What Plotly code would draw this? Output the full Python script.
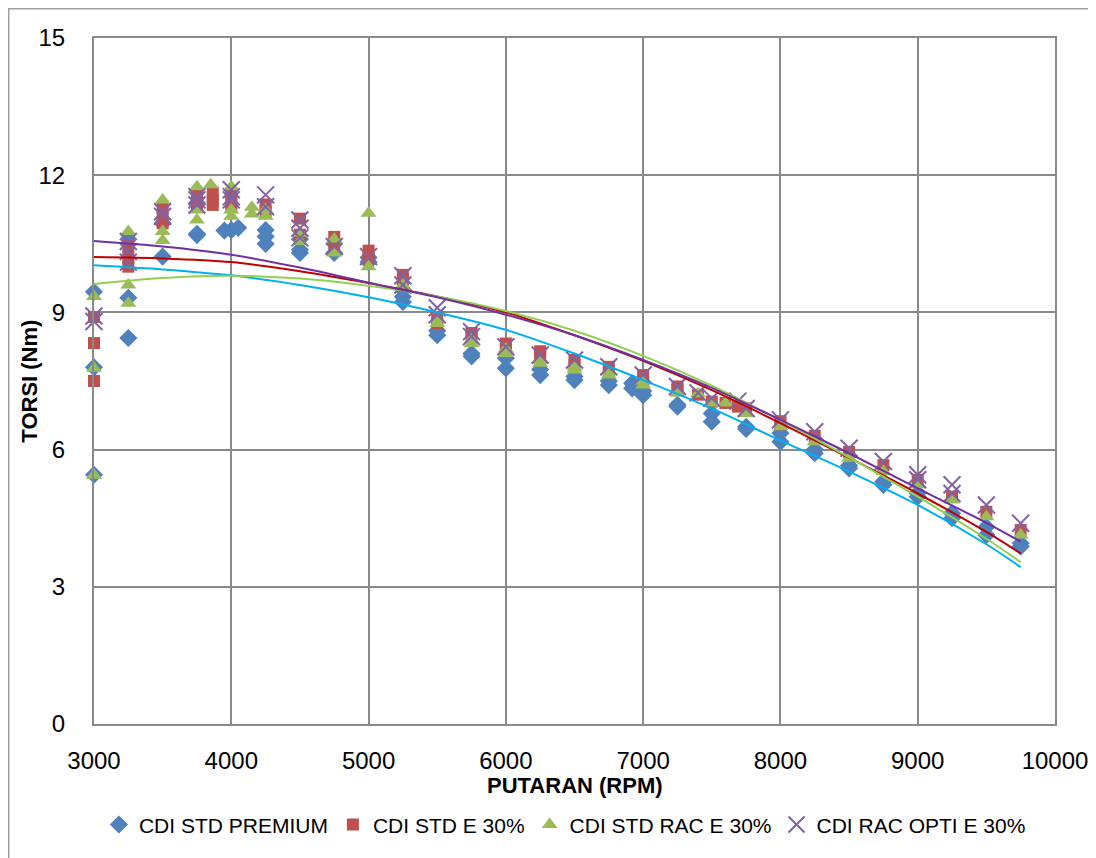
import plotly.graph_objects as go

# ---------------- data ----------------
blue_x = [3000, 3000, 3000, 3250, 3250, 3250, 3500, 3500, 3750, 3750, 3750, 3950, 4000, 4050,
          4250, 4250, 4250, 4500, 4500, 4500, 4750, 4750, 5000, 5000, 5250, 5250, 5250,
          5500, 5500, 5750, 5750, 6000, 6000, 6250, 6250, 6500, 6500, 6750, 6750, 6920, 6920,
          7000, 7000, 7250, 7250, 7500, 7500, 7750, 7750, 8000, 8000, 8250, 8250, 8500, 8500,
          8750, 8750, 9000, 9000, 9250, 9250, 9500, 9500, 9750, 9750]
blue_y = [9.45, 7.8, 5.45, 10.6, 9.32, 8.44, 10.22, 10.95, 11.39, 10.69, 10.72, 10.79, 10.8, 10.85,
          10.8, 10.66, 10.5, 10.37, 10.3, 10.6, 10.3, 10.5, 10.1, 10.2, 9.34, 9.23, 9.5,
          8.5, 8.6, 8.1, 8.04, 7.78, 8.0, 7.63, 7.75, 7.52, 7.6, 7.41, 7.5, 7.45, 7.34,
          7.19, 7.28, 6.94, 6.98, 6.79, 6.61, 6.5, 6.45, 6.36, 6.17, 5.92, 6.0, 5.59, 5.65,
          5.3, 5.23, 4.97, 5.05, 4.61, 4.5, 4.31, 4.13, 3.88, 3.95]

red_x = [3000, 3000, 3000, 3250, 3250, 3250, 3500, 3500, 3500, 3750, 3750, 3750, 3865, 3865, 3865,
         4000, 4000, 4000, 4250, 4250, 4500, 4500, 4750, 4750, 5000, 5000, 5250, 5250,
         5500, 5500, 5750, 5750, 6000, 6000, 6250, 6250, 6500, 6500, 6750, 6750, 7000, 7000,
         7250, 7250, 7400, 7500, 7600, 7690, 7750, 8000, 8000, 8250, 8500, 8750, 9000, 9250,
         9500, 9750]
red_y = [8.9, 8.33, 7.5, 10.45, 10.2, 10.0, 11.28, 11.05, 10.95, 11.57, 11.43, 11.31, 11.45, 11.35, 11.62,
         11.6, 11.4, 11.3, 11.36, 11.2, 11.05, 10.7, 10.65, 10.5, 10.35, 10.18, 9.82, 9.7,
         8.76, 8.85, 8.55, 8.45, 8.32, 8.2, 8.15, 8.05, 7.96, 7.85, 7.81, 7.7, 7.63, 7.5,
         7.31, 7.38, 7.2, 7.05, 7.02, 6.94, 6.9, 6.62, 6.55, 6.3, 5.95, 5.66, 5.34, 4.97,
         4.64, 4.24]

green_x = [3000, 3000, 3000, 3250, 3250, 3250, 3500, 3500, 3500, 3750, 3750, 3750, 3850,
           4000, 4000, 4000, 4150, 4150, 4250, 4250, 4500, 4500, 4750, 4750, 5000, 5000,
           5250, 5250, 5500, 5500, 5750, 5750, 6000, 6000, 6250, 6250, 6500, 6500, 6750, 6750,
           7000, 7000, 7250, 7400, 7500, 7600, 7750, 8000, 8250, 8500, 8750, 9000, 9250, 9500, 9750]
green_y = [9.35, 7.78, 5.44, 10.77, 9.6, 9.2, 11.46, 10.77, 10.57, 11.75, 11.24, 11.02, 11.79,
           11.75, 11.24, 11.1, 11.3, 11.15, 11.1, 11.25, 10.73, 10.55, 10.6, 10.3, 11.17, 10.0,
           9.6, 9.55, 8.76, 8.85, 8.32, 8.4, 8.1, 8.2, 7.89, 7.95, 7.74, 7.8, 7.63, 7.7,
           7.41, 7.5, 7.23, 7.22, 7.02, 7.02, 6.79, 6.5, 6.17, 5.81, 5.52, 5.23, 4.9, 4.53, 4.13]

purple_x = [3000, 3000, 3250, 3250, 3250, 3500, 3500, 3750, 3750, 3750, 4000, 4000, 4000,
            4250, 4250, 4500, 4500, 4500, 4750, 5000, 5250, 5250, 5500, 5500, 5750, 5750,
            6000, 6250, 6500, 6750, 7000, 7250, 7400, 7500, 7690, 7750, 8000, 8250, 8500, 8750,
            9000, 9000, 9250, 9250, 9500, 9750]
purple_y = [8.92, 8.8, 10.55, 10.33, 10.1, 11.2, 11.1, 11.53, 11.46, 11.35, 11.68, 11.53, 11.46,
            11.57, 11.31, 11.02, 10.84, 10.63, 10.44, 10.22, 9.8, 9.6, 9.1, 8.95, 8.58, 8.47,
            8.25, 8.07, 7.96, 7.81, 7.63, 7.38, 7.24, 7.12, 7.06, 6.9, 6.65, 6.39, 6.03, 5.74,
            5.45, 5.34, 5.23, 5.04, 4.79, 4.39]

# trendlines
trend_x = [3000, 3500, 4000, 4500, 5000, 5500, 6000, 6500, 7000, 7500, 8000, 8500, 9000, 9500, 9750]
trend_blue = [10.03, 9.94, 9.81, 9.60, 9.33, 9.00, 8.62, 8.10, 7.52, 6.90, 6.20, 5.52, 4.79, 3.93, 3.43]
trend_red = [10.21, 10.18, 10.10, 9.90, 9.64, 9.35, 9.00, 8.50, 7.94, 7.30, 6.58, 5.82, 5.04, 4.20, 3.73]
trend_green = [9.62, 9.75, 9.80, 9.74, 9.58, 9.35, 9.03, 8.60, 8.05, 7.40, 6.64, 5.83, 4.97, 4.05, 3.54]
trend_purple = [10.56, 10.44, 10.26, 9.98, 9.65, 9.33, 8.95, 8.50, 7.96, 7.35, 6.65, 5.92, 5.15, 4.40, 3.99]

names = ["CDI STD PREMIUM", "CDI STD E 30%", "CDI STD RAC E 30%", "CDI RAC OPTI E 30%"]
x_ticks = [3000, 4000, 5000, 6000, 7000, 8000, 9000, 10000]
y_ticks = [0, 3, 6, 9, 12, 15]

FONT = "Liberation Sans"
GRID = "#8a8a8a"

fig = go.Figure()

fig.add_trace(go.Scatter(x=blue_x, y=blue_y, mode="markers", name=names[0], cliponaxis=False,
                         marker=dict(symbol="diamond", size=14, color="#4F81BD")))
fig.add_trace(go.Scatter(x=red_x, y=red_y, mode="markers", name=names[1], cliponaxis=False,
                         marker=dict(symbol="square", size=12, color="#C0504D")))
fig.add_trace(go.Scatter(x=green_x, y=green_y, mode="markers", name=names[2], cliponaxis=False,
                         marker=dict(symbol="triangle-up", size=14, color="#9BBB59")))
fig.add_trace(go.Scatter(x=purple_x, y=purple_y, mode="markers", name=names[3], cliponaxis=False,
                         marker=dict(symbol="x-thin", size=17, color="#8064A2",
                                     line=dict(color="#8064A2", width=2))))

for ty, col in [(trend_blue, "#00B0F0"), (trend_red, "#C00000"),
                (trend_green, "#92D050"), (trend_purple, "#7030A0")]:
    fig.add_trace(go.Scatter(x=trend_x, y=ty, mode="lines", showlegend=False,
                             line=dict(color=col, width=2, shape="spline", smoothing=0.8),
                             hoverinfo="skip"))

fig.update_layout(
    width=1096, height=858,
    margin=dict(l=86, r=49, t=30, b=142),
    paper_bgcolor="white", plot_bgcolor="white",
    font=dict(family=FONT, size=21, color="black"),
    showlegend=True,
    legend=dict(orientation="h", x=0.49, xanchor="center", y=-0.147, yanchor="middle",
                font=dict(size=21), traceorder="normal", tracegroupgap=0,
                itemwidth=30, entrywidthmode="pixels", entrywidth=0),
    shapes=[dict(type="rect", xref="paper", yref="paper",
                 x0=-0.089, y0=-0.25, x1=1.2, y1=1.043,
                 line=dict(color="#a0a0a0", width=2), layer="below")],
    annotations=[
        dict(text="<b>PUTARAN (RPM)</b>", xref="paper", yref="paper", x=0.5, y=-0.09,
             xanchor="center", yanchor="middle", showarrow=False, font=dict(size=22)),
        dict(text="<b>TORSI (Nm)</b>", xref="paper", yref="paper", x=-0.068, y=0.5,
             xanchor="center", yanchor="middle", showarrow=False, textangle=-90,
             font=dict(size=22)),
    ],
)

fig.update_xaxes(range=[3000, 10000], tickvals=x_ticks, ticktext=[str(v) for v in x_ticks],
                 showgrid=True, gridcolor=GRID, gridwidth=2,
                 showline=True, linecolor=GRID, linewidth=2, mirror=True,
                 zeroline=False, ticks="", ticklabelstandoff=14,
                 tickfont=dict(size=24))
fig.update_yaxes(range=[0, 15], tickvals=y_ticks, ticktext=[str(v) for v in y_ticks],
                 showgrid=True, gridcolor=GRID, gridwidth=2,
                 showline=True, linecolor=GRID, linewidth=2, mirror=True,
                 zeroline=False, ticks="", ticklabelstandoff=22,
                 tickfont=dict(size=24))

fig.write_html("out.html")
